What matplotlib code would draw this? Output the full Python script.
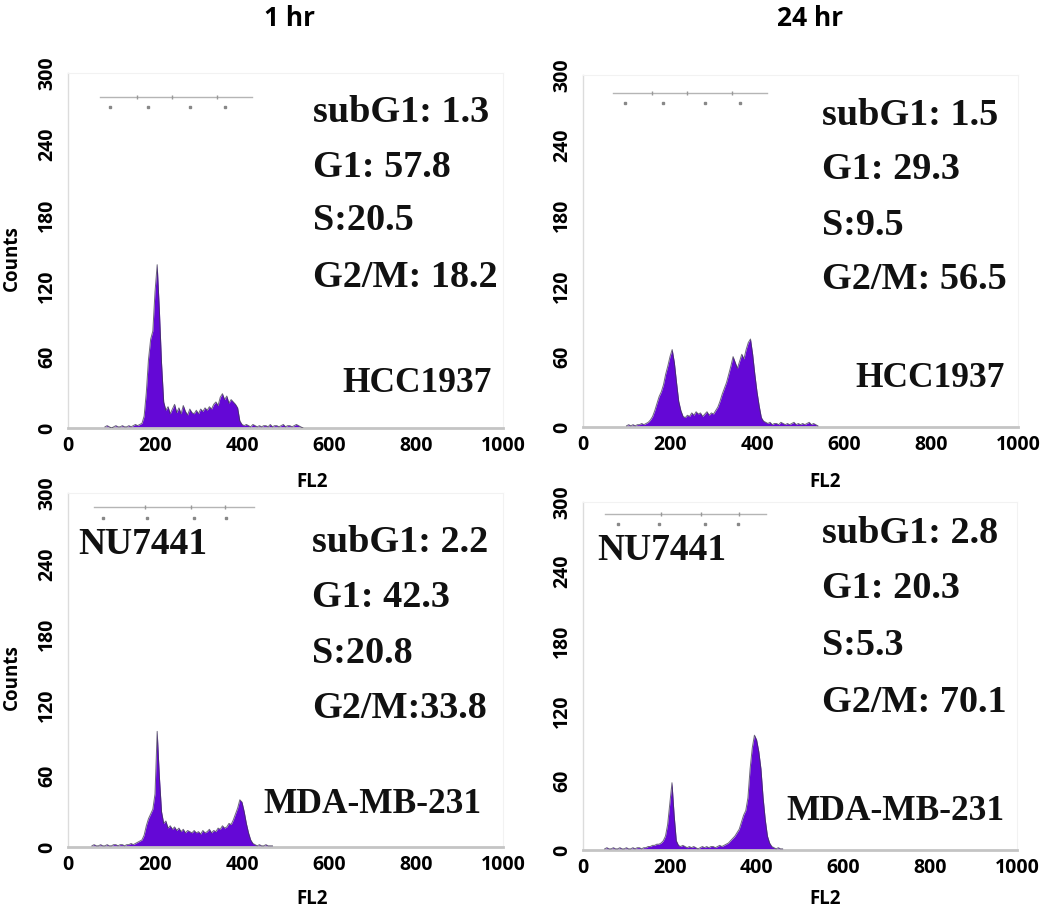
import numpy as np
import matplotlib
matplotlib.use("Agg")
import matplotlib.pyplot as plt

# ---------------- data ----------------
col_titles = ["1 hr", "24 hr"]
x_ticks = [0, 200, 400, 600, 800, 1000]
y_ticks = [0, 60, 120, 180, 240, 300]
bin_step = 5

# Panel A: HCC1937, 1 hr
a_start = 85
a_counts = [1, 2, 1, 0, 1, 2, 1, 1, 2, 1, 1, 2, 1, 2, 3, 2, 3,
            4, 10, 30, 58, 75, 82, 115, 138, 100, 55, 22, 15, 18, 12, 16, 20, 13, 17,
            12, 19, 14, 11, 16, 13, 12, 15, 12, 16, 14, 17, 15, 18, 16, 20, 22, 19,
            26, 29, 24, 27, 21, 24, 22, 20, 17, 6, 3, 2, 3, 2, 1, 3, 2, 1, 2, 1, 2,
            2, 1, 3, 1, 2, 2, 1, 2, 3, 1, 2, 2, 1, 2, 3, 2, 1, 0]

# Panel B: HCC1937, 24 hr
b_start = 100
b_counts = [1, 2, 1, 2, 1, 2, 2, 3, 2, 3, 4, 6,
            9, 14, 20, 26, 30, 36, 45, 52, 60, 66, 55, 38, 22, 14, 9, 8, 10, 9, 12,
            10, 13, 11, 12, 9, 11, 13, 10, 12, 11, 14, 17, 22, 28, 33, 38, 45, 52,
            60, 55, 50, 56, 62, 58, 66, 72, 75, 62, 45, 30, 18, 8, 5, 4,
            3, 4, 2, 3, 3, 2, 4, 3, 2, 3, 2, 3, 4, 2, 3, 2, 3, 2, 3, 4, 2, 3, 2, 1]

# Panel C: MDA-MB-231, 1 hr
c_start = 55
c_counts = [1, 2, 1, 1, 2, 1, 1, 2, 1, 1, 2, 2, 1, 2, 2, 1, 2, 2, 3, 2, 3, 4, 5,
            6, 10, 18, 24, 28, 32, 45, 98, 60, 30, 20, 22, 16, 18, 15, 17, 14, 16,
            13, 15, 12, 14, 13, 12, 14, 12, 13, 11, 14, 12, 13, 15, 12, 14, 13, 16,
            15, 18, 16, 17, 20, 19, 23, 28, 33, 40, 38, 30, 20, 12, 6, 3, 2,
            1, 2, 1, 1, 2, 1, 1, 1]

# Panel D: MDA-MB-231, 24 hr
d_start = 50
d_counts = [1, 2, 1, 1, 2, 1, 1, 2, 1, 1, 2, 1, 1, 2, 1, 2, 2, 1, 2, 2, 3, 3, 4, 4, 5,
            5, 6, 8, 12, 22, 40, 58, 30, 8, 4, 3, 4, 3, 2, 3, 2, 3, 2, 1, 2, 3, 2, 3,
            2, 3, 3, 2, 3, 4, 3, 4, 5, 6, 8, 10, 12, 15, 18, 24, 30, 34, 45, 70, 88,
            99, 95, 85, 70, 45, 26, 12, 6, 3, 2, 1, 2, 1, 1]

starts = [a_start, b_start, c_start, d_start]
counts = [a_counts, b_counts, c_counts, d_counts]

a_stats = ["subG1: 1.3", "G1: 57.8", "S:20.5", "G2/M: 18.2"]
b_stats = ["subG1: 1.5", "G1: 29.3", "S:9.5", "G2/M: 56.5"]
c_stats = ["subG1: 2.2", "G1: 42.3", "S:20.8", "G2/M:33.8"]
d_stats = ["subG1: 2.8", "G1: 20.3", "S:5.3", "G2/M: 70.1"]
stats = [a_stats, b_stats, c_stats, d_stats]
cell_lines = ["HCC1937", "HCC1937", "MDA-MB-231", "MDA-MB-231"]
drug_label = ["", "", "NU7441", "NU7441"]

# gate bar (counts level, left, right) and markers
gate_y = [280, 285, 288, 290]
gate_x0 = [74, 69, 60, 51]
gate_x1 = [423, 423, 428, 421]
gate_ticks = [[158, 239, 342], [158, 239, 342], [177, 282, 360], [179, 272, 360]]
gate_dots = [[97, 184, 280, 361], [97, 184, 280, 361], [80, 181, 290, 363], [80, 175, 282, 357]]

# ---------------- layout ----------------
W, H = 1050, 908
fig = plt.figure(figsize=(W / 100, H / 100), dpi=100)

# pixel boxes: left, right, top, bottom
boxes = [(68, 503, 73, 428), (583, 1018, 75, 427),
         (68, 503, 493, 847), (583, 1017, 502, 850)]
stat_pos = [  # x, baselines for 4 lines
    (563, [259, 212, 167, 119]),
    (549, [257, 211, 164, 118]),
    (561, [250, 203, 156, 109]),
    (551, [265, 217, 168, 119]),
]
cell_pos = [(975, 30), (970, 34), (951, 29), (972, 26)]
drug_pos = [None, None, (23, 248), (32, 250)]
fl2_px = [(312, 472), (825, 472), (312, 889), (825, 889)]  # center x, top y

tick_font = "Open Sans"
serif = "Liberation Serif"
purple = "#6408d6"

for i, (l, r, t, b) in enumerate(boxes):
    ax = fig.add_axes([l / W, 1 - b / H, (r - l) / W, (b - t) / H])
    x = np.arange(len(counts[i])) * bin_step + starts[i]
    y = np.array(counts[i], dtype=float)
    ax.fill_between(x, 0, y, color=purple, lw=0, zorder=2)
    ax.plot(x, y, color="#3c3550", lw=0.7, alpha=0.75, zorder=3)

    ax.set_xlim(0, 1000)
    ax.set_ylim(0, 300)
    ax.set_xticks(x_ticks)
    ax.set_yticks(y_ticks)
    ax.set_xticklabels([str(v) for v in x_ticks], fontfamily=tick_font,
                       fontweight="bold", fontsize=14)
    ax.set_yticklabels([str(v) for v in y_ticks], fontfamily=tick_font,
                       fontweight="bold", fontsize=14, rotation=90, va="center")
    ax.tick_params(axis="both", length=0)
    ax.tick_params(axis="x", pad=6)
    ax.tick_params(axis="y", pad=8)

    for side in ["top", "right"]:
        ax.spines[side].set_color("#f2f2f2")
        ax.spines[side].set_linewidth(0.8)
    ax.spines["left"].set_color("#dcdcdc")
    ax.spines["left"].set_linewidth(1.0)
    ax.spines["bottom"].set_color("#c4c4c4")
    ax.spines["bottom"].set_linewidth(2.0)

    # gate bar
    ax.plot([gate_x0[i], gate_x1[i]], [gate_y[i], gate_y[i]], color="#b5b5b5",
            lw=1.0, zorder=2)
    ax.plot(gate_ticks[i], [gate_y[i]] * len(gate_ticks[i]), ls="none",
            marker="|", ms=3, color="#999999")
    ax.plot(gate_dots[i], [gate_y[i] - 9] * len(gate_dots[i]), ls="none",
            marker="s", ms=1.5, color="#888888")

    sx, sbs = stat_pos[i]
    for txt, yb in zip(stats[i], sbs):
        ax.text(sx, yb, txt, fontfamily=serif, fontweight="bold", fontsize=27.5,
                va="baseline", ha="left", color="#111111")
    cx, cy = cell_pos[i]
    ax.text(cx, cy, cell_lines[i], fontfamily=serif, fontweight="bold",
            fontsize=25.5, va="baseline", ha="right", color="#111111")
    if drug_pos[i] is not None:
        dx, dy = drug_pos[i]
        ax.text(dx, dy, drug_label[i], fontfamily=serif, fontweight="bold",
                fontsize=27, va="baseline", ha="left", color="#111111")

    fx, fy = fl2_px[i]
    ax.set_xlabel("FL2", fontfamily=tick_font, fontweight="bold", fontsize=13.5)
    ax.xaxis.set_label_coords((fx - l) / (r - l), (b - fy) / (b - t))
    if i % 2 == 0:
        ax.set_ylabel("Counts", fontfamily=tick_font, fontweight="bold", fontsize=13.5)
        ax.yaxis.set_label_coords((22 - l) / (r - l), 0.48)

fig.text(290 / W, 1 - 18 / H, col_titles[0], fontfamily=tick_font,
         fontweight="bold", fontsize=19, ha="center", va="center")
fig.text(810 / W, 1 - 18 / H, col_titles[1], fontfamily=tick_font,
         fontweight="bold", fontsize=19, ha="center", va="center")

fig.savefig("out.png", dpi=100, facecolor="white")
